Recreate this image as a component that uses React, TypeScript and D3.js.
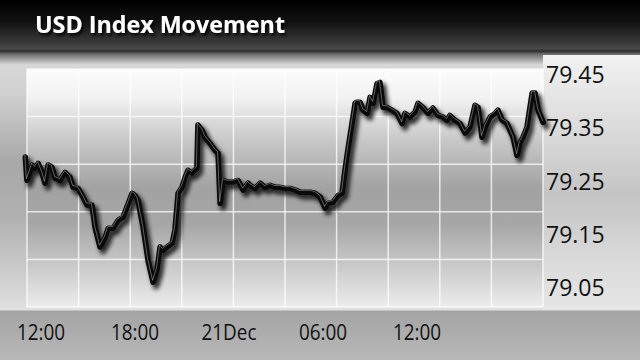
import React from 'react';
import * as d3 from 'd3';

// minutes from 12:00, 20 Dec
const minutes = [-60,-54,-34,-23,-11,4,15,27,42,54,73,92,111,123,142,161,176,195,207,226,245,257,276,295,314,329,349,360,371,391,410,429,444,456,467,483,502,513,525,540,552,563,578,597,601,617,628,647,666,678,686,697,716,735,755,774,793,800,820,839,858,877,896,915,935,954,973,992,1011,1030,1049,1069,1088,1099,1118,1138,1153,1164,1176,1191,1203,1210,1222,1233,1249,1260,1272,1287,1298,1310,1325,1344,1363,1383,1394,1413,1432,1444,1463,1482,1501,1521,1540,1555,1566,1586,1605,1624,1643,1662,1674,1689,1701,1720,1739,1750,1766,1785,1796,1808,1823,1834,1846,1861,1881,1892,1904,1923];
const values = [79.296,79.252,79.281,79.275,79.284,79.266,79.247,79.281,79.277,79.256,79.252,79.267,79.258,79.239,79.237,79.221,79.206,79.206,79.164,79.127,79.144,79.162,79.162,79.177,79.183,79.202,79.228,79.224,79.215,79.164,79.102,79.061,79.084,79.127,79.121,79.127,79.134,79.159,79.228,79.239,79.258,79.271,79.266,79.275,79.356,79.346,79.333,79.322,79.309,79.303,79.209,79.252,79.249,79.249,79.252,79.234,79.247,79.243,79.237,79.247,79.239,79.243,79.239,79.239,79.237,79.237,79.234,79.230,79.230,79.230,79.228,79.221,79.200,79.209,79.211,79.224,79.228,79.271,79.312,79.359,79.397,79.399,79.399,79.384,79.378,79.408,79.397,79.434,79.436,79.389,79.389,79.384,79.378,79.359,79.378,79.371,79.380,79.397,79.389,79.378,79.388,79.374,79.371,79.365,79.374,79.365,79.359,79.341,79.352,79.393,79.389,79.333,79.352,79.371,79.378,79.384,79.365,79.359,79.346,79.333,79.299,79.322,79.333,79.352,79.416,79.416,79.384,79.361];

const xTickMinutes = [0, 360, 720, 1080, 1440];
const xTickLabels = ['12:00', '18:00', '21Dec', '06:00', '12:00'];
const yTickValues = [79.05, 79.15, 79.25, 79.35, 79.45];
const title = 'USD Index Movement';

const base = new Date(2012, 11, 20, 12, 0, 0);
const toDate = (m: number) => new Date(base.getTime() + m * 60000);

export default function App() {
  React.useEffect(() => {
    document.body.style.margin = '0';
  }, []);
  const W = 640, H = 360;
  const plot = { left: 27, right: 543, top: 69, bottom: 307 };
  const x = d3.scaleTime().domain([toDate(0), toDate(1440)]).range([41, 417]);
  const y = d3.scaleLinear().domain([79.05, 79.45]).range([288, 75]);
  const gx = d3.scaleLinear().domain([0, 10]).range([plot.left, plot.right]);
  const gy = d3.scaleLinear().domain([0, 5]).range([plot.bottom, plot.top]);
  const data = minutes.map((m, i) => ({ t: toDate(m), v: values[i] }));
  const line = d3.line<{ t: Date; v: number }>().x(d => x(d.t)).y(d => y(d.v)).curve(d3.curveLinear);
  const path = line(data) || '';

  return (
    <svg width={W} height={H} style={{ position: 'absolute', left: 0, top: 0, display: 'block' }}>
      <defs>
        <linearGradient id="bg" x1="0" y1="0" x2="0" y2="1">
          <stop offset="0" stopColor="#000" />
          <stop offset="0.06" stopColor="#111" />
          <stop offset="0.12" stopColor="#3a3a3a" />
          <stop offset="0.135" stopColor="#4a4a4a" />
          <stop offset="0.142" stopColor="#2e2e2e" />
          <stop offset="0.15" stopColor="#6a6a6a" />
          <stop offset="0.18" stopColor="#d8d8d8" />
          <stop offset="0.26" stopColor="#d0d0d0" />
          <stop offset="0.45" stopColor="#a8a8a8" />
          <stop offset="0.6" stopColor="#b0b0b0" />
          <stop offset="0.8" stopColor="#d4d4d4" />
          <stop offset="0.86" stopColor="#e0e0e0" />
          <stop offset="0.865" stopColor="#a4a4a4" />
          <stop offset="1" stopColor="#b8b8b8" />
        </linearGradient>
        <linearGradient id="rightBg" x1="0" y1="0" x2="0" y2="1">
          <stop offset="0" stopColor="#f2f2f2" />
          <stop offset="0.35" stopColor="#d6d6d6" />
          <stop offset="0.55" stopColor="#c4c4c4" />
          <stop offset="0.8" stopColor="#dadada" />
          <stop offset="1" stopColor="#e6e6e6" />
        </linearGradient>
        <linearGradient id="plotBg" x1="0" y1="0" x2="0" y2="1">
          <stop offset="0" stopColor="#fcfcfc" />
          <stop offset="0.12" stopColor="#f2f2f2" />
          <stop offset="0.3" stopColor="#c8c8c8" />
          <stop offset="0.5" stopColor="#a2a2a2" />
          <stop offset="0.65" stopColor="#a6a6a6" />
          <stop offset="0.82" stopColor="#c8c8c8" />
          <stop offset="1" stopColor="#ececec" />
        </linearGradient>
        <filter id="titleShadow" x="-10%" y="-40%" width="130%" height="190%">
          <feDropShadow dx="2" dy="2.5" stdDeviation="1.8" floodColor="#000" floodOpacity="0.9" />
        </filter>
        <filter id="lineShadow" x="-5%" y="-20%" width="110%" height="140%">
          <feGaussianBlur stdDeviation="2.2" />
        </filter>
      </defs>

      <rect x={0} y={0} width={W} height={H} fill="url(#bg)" />
      <rect x={plot.right} y={55} width={W - plot.right} height={plot.bottom - 55 + 3} fill="url(#rightBg)" />
      <rect x={plot.left} y={plot.top} width={plot.right - plot.left} height={plot.bottom - plot.top} fill="url(#plotBg)" />

      {/* grid */}
      <g stroke="#ffffff" strokeOpacity={0.75} strokeWidth={1.5}>
        {d3.range(11).map(i => (
          <line key={'v' + i} x1={gx(i)} x2={gx(i)} y1={plot.top} y2={plot.bottom} />
        ))}
        {d3.range(6).map(i => (
          <line key={'h' + i} x1={plot.left} x2={plot.right} y1={gy(i)} y2={gy(i)} />
        ))}
      </g>

      {/* line: shadow, body, highlight */}
      <path d={path} fill="none" stroke="#000" strokeOpacity={0.8} strokeWidth={6.5} strokeLinejoin="round" strokeLinecap="round" transform="translate(3,4)" filter="url(#lineShadow)" />
      <path d={path} fill="none" stroke="#0a0a0a" strokeWidth={5.5} strokeLinejoin="round" strokeLinecap="round" />
      <path d={path} fill="none" stroke="#ffffff" strokeOpacity={0.35} strokeWidth={1} strokeLinejoin="round" strokeLinecap="round" transform="translate(-0.5,-1.8)" />

      {/* y labels */}
      <g fontFamily="'Open Sans', 'Noto Sans', sans-serif" fontSize={23} fontWeight={500} fill="#111">
        {yTickValues.map(v => (
          <text key={v} x={546} y={y(v) + 8}>{v.toFixed(2)}</text>
        ))}
      </g>

      {/* x labels */}
      <g fontFamily="'Open Sans', 'Noto Sans', sans-serif" fontSize={22} fontWeight={500} fill="#111">
        {xTickMinutes.map((m, i) => (
          <text key={i} textAnchor="middle" transform={`translate(${x(toDate(m))},${340}) scale(0.86,1)`}>{xTickLabels[i]}</text>
        ))}
      </g>

      {/* title */}
      <text x={35} y={33} fontFamily="'Open Sans', 'Noto Sans', sans-serif" fontWeight={700} fontSize={24} fill="#fff" textLength={250} lengthAdjust="spacingAndGlyphs" filter="url(#titleShadow)">{title}</text>
    </svg>
  );
}
